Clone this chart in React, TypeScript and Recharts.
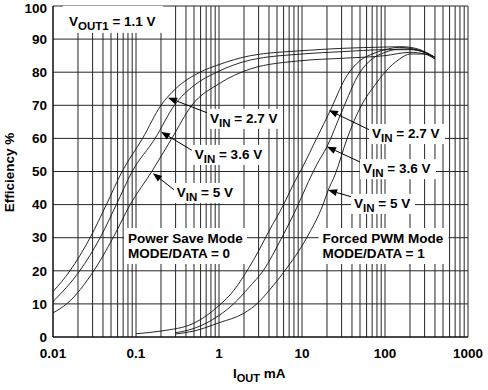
import React from 'react';
import { LineChart, Line, XAxis, YAxis, CartesianGrid, ReferenceDot, ReferenceLine, Label } from 'recharts';

const FONT = "'Liberation Sans', Arial, Helvetica, sans-serif";

// Power Save Mode (MODE/DATA = 0) -- [I_OUT mA, efficiency %]
const psVin27 = [[0.01, 13.7], [0.016, 20], [0.028, 30], [0.044, 40], [0.068, 50], [0.12, 60], [0.2, 70], [0.3, 75], [0.59, 80], [1, 82.3], [2.4, 85], [10, 86.5], [30, 87.2], [100, 87.6], [160, 87.7], [250, 87], [400, 84.5]];
const psVin36 = [[0.01, 10.7], [0.021, 20], [0.037, 30], [0.058, 40], [0.09, 50], [0.17, 60], [0.29, 70], [0.5, 76], [0.94, 80], [2.4, 83.7], [10, 85.5], [30, 86.2], [100, 86.8], [200, 86.8], [300, 86], [400, 84.5]];
const psVin5 = [[0.01, 7.3], [0.0146, 10], [0.031, 20], [0.053, 30], [0.085, 40], [0.155, 50], [0.27, 60], [0.47, 70], [1, 76.5], [2.4, 81], [10, 83.5], [30, 84.2], [100, 85], [200, 86], [300, 85.5], [400, 84]];

// Forced PWM Mode (MODE/DATA = 1)
const pwmVin27 = [[0.1, 1], [0.2, 1.8], [0.5, 4.2], [1, 9.5], [1.5, 14], [2.3, 21], [3, 26], [4, 32], [6, 40], [8, 46.5], [10, 51], [15, 60], [22, 68.5], [33, 78], [50, 83.5], [70, 85.5], [100, 86.8], [150, 87.5], [200, 87.2], [300, 86], [400, 84.5]];
const pwmVin36 = [[0.3, 1.3], [0.5, 2.6], [1, 6.5], [1.5, 10], [2.3, 15], [3.4, 20], [5.7, 30], [9, 40], [12, 47], [15, 52], [20, 57.5], [30, 68], [50, 80], [70, 84], [100, 86], [150, 87], [200, 87], [300, 86], [400, 84.5]];
const pwmVin5 = [[0.3, 0.9], [0.5, 1.8], [1, 4.3], [2, 7.2], [3, 10.5], [4, 14], [6.2, 20], [11.4, 30], [17.9, 40], [20.7, 44.4], [25, 49], [35, 60], [52, 70], [75, 76], [100, 80], [150, 84], [200, 85.5], [300, 85.5], [400, 84]];

const series = [psVin27, psVin36, psVin5, pwmVin27, pwmVin36, pwmVin5];

const xTicks = [0.01, 0.1, 1, 10, 100, 1000];
const yTicks = [0, 10, 20, 30, 40, 50, 60, 70, 80, 90, 100];
const decades = [0.01, 0.1, 1, 10, 100];
const xGrid = decades.flatMap((d) => [1, 2, 3, 4, 5, 6, 7, 8, 9].map((k) => +(d * k).toPrecision(3))).concat(1000);

// text tags: anchor = left end of first baseline, in data units
const tags = [
  { x: 0.0156, y: 94, lines: [['V', 'OUT1', ' = 1.1 V']], box: [-6, -20, 100, 27] },
  { x: 0.78, y: 64.7, lines: [['V', 'IN', ' = 2.7 V']], box: [-3, -14, 76, 20] },
  { x: 0.51, y: 53.8, lines: [['V', 'IN', ' = 3.6 V']], box: [-3, -14, 76, 20] },
  { x: 0.31, y: 42.3, lines: [['V', 'IN', ' = 5 V']], box: [-3, -14, 64, 20] },
  { x: 69.7, y: 60.1, lines: [['V', 'IN', ' = 2.7 V']], box: [-3, -14, 76, 20] },
  { x: 54.3, y: 49.5, lines: [['V', 'IN', ' = 3.6 V']], box: [-3, -14, 76, 20] },
  { x: 42.4, y: 39.0, lines: [['V', 'IN', ' = 5 V']], box: [-3, -14, 64, 20] },
  { x: 0.08, y: 28.4, lines: [['Power Save Mode', '', ''], ['MODE/DATA = 0', '', '']], box: [-4, -15, 123, 36] },
  { x: 17.7, y: 28.4, lines: [['Forced PWM Mode', '', ''], ['MODE/DATA = 1', '', '']], box: [-4, -15, 130, 36] },
];

// arrows: [tail, head] in data units
const arrows = [
  [{ x: 0.78, y: 67.4 }, { x: 0.243, y: 72.3 }],
  [{ x: 0.51, y: 55.9 }, { x: 0.2, y: 62 }],
  [{ x: 0.31, y: 43.8 }, { x: 0.16, y: 49.5 }],
  [{ x: 65.9, y: 62.5 }, { x: 21.1, y: 68.5 }],
  [{ x: 52.9, y: 52.6 }, { x: 20, y: 57.5 }],
  [{ x: 40, y: 42.3 }, { x: 20.6, y: 44.4 }],
];

const tagShape = (t: any) => (props: any) => {
  const { cx, cy } = props;
  const [bx, by, bw, bh] = t.box;
  return (
    <g>
      <rect x={cx + bx} y={cy + by} width={bw} height={bh} fill="#fff" />
      {t.lines.map((ln: string[], i: number) => (
        <text key={i} x={cx} y={cy + i * 15} fontFamily={FONT} fontWeight="bold" fontSize={13.5} fill="#000">
          {ln[0]}
          {ln[1] ? <tspan fontSize={11.5} dy={4}>{ln[1]}</tspan> : null}
          {ln[1] ? <tspan dy={-4}>{ln[2]}</tspan> : null}
        </text>
      ))}
    </g>
  );
};

const arrowShape = (props: any) => {
  const { x1, y1, x2, y2 } = props;
  const a = Math.atan2(y2 - y1, x2 - x1);
  const len = 9;
  const half = 3.5;
  const bx = x2 - len * Math.cos(a);
  const by = y2 - len * Math.sin(a);
  const px = -Math.sin(a) * half;
  const py = Math.cos(a) * half;
  return (
    <g>
      <line x1={x1} y1={y1} x2={bx} y2={by} stroke="#000" strokeWidth={1} />
      <polygon points={`${x2},${y2} ${bx + px},${by + py} ${bx - px},${by - py}`} fill="#000" />
    </g>
  );
};

const tickStyle = { fill: '#000', fontFamily: FONT, fontWeight: 'bold', fontSize: 13.5 };
const GRID = '#262626';

export default function App() {
  return (
    <div style={{ position: 'absolute', left: 0, top: 0, background: '#fff' }}>
      <LineChart width={488} height={390} margin={{ top: 6, right: 20, bottom: 0, left: 0 }}>
        <CartesianGrid stroke={GRID} strokeWidth={1} vertical={false} horizontalValues={yTicks} />
        <XAxis
          dataKey="x"
          type="number"
          scale="log"
          domain={[0.01, 1000]}
          ticks={xTicks}
          allowDataOverflow
          height={53}
          tickLine={false}
          tickSize={0}
          tickMargin={11}
          axisLine={{ stroke: '#000' }}
          tick={tickStyle}
          tickFormatter={(v: number) => String(v)}
        >
          <Label
            content={({ viewBox }: any) => (
              <text x={viewBox.x + 180} y={viewBox.y + 41} fontFamily={FONT} fontWeight="bold" fontSize={13.5} fill="#000">
                I<tspan fontSize={11} dy={4}>OUT</tspan>
                <tspan dy={-4}> mA</tspan>
              </text>
            )}
          />
        </XAxis>
        <YAxis
          type="number"
          domain={[0, 100]}
          ticks={yTicks}
          width={53}
          tickLine={false}
          tickSize={0}
          tickMargin={6}
          axisLine={{ stroke: '#000' }}
          tick={tickStyle}
        >
          <Label
            content={({ viewBox }: any) => {
              const cx = viewBox.x + 14;
              const cy = viewBox.y + viewBox.height / 2 + 1;
              return (
                <text x={cx} y={cy} transform={`rotate(-90 ${cx} ${cy})`} textAnchor="middle" fontFamily={FONT} fontWeight="bold" fontSize={13.5} fill="#000">
                  Efficiency %
                </text>
              );
            }}
          />
        </YAxis>
        {xGrid.map((v) => (
          <ReferenceLine key={`g${v}`} x={v} stroke={GRID} strokeWidth={1} />
        ))}
        {series.map((s, i) => (
          <Line
            key={i}
            data={s.map(([x, y]) => ({ x, y }))}
            dataKey="y"
            type="monotone"
            stroke="#111"
            strokeWidth={0.9}
            dot={false}
            activeDot={false}
            isAnimationActive={false}
          />
        ))}
        {arrows.map((seg, i) => (
          <ReferenceLine key={`a${i}`} segment={seg} shape={arrowShape} ifOverflow="visible" />
        ))}
        {tags.map((t, i) => (
          <ReferenceDot key={`t${i}`} x={t.x} y={t.y} r={0} ifOverflow="visible" shape={tagShape(t)} />
        ))}
      </LineChart>
    </div>
  );
}
